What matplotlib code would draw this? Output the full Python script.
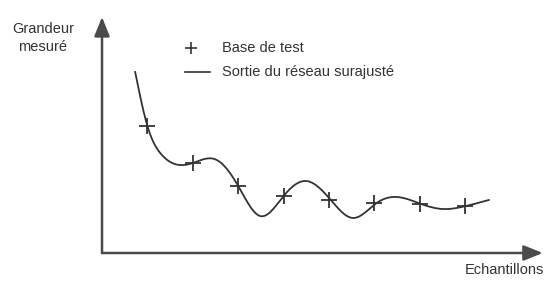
import numpy as np
import matplotlib
matplotlib.use('Agg')
import matplotlib.pyplot as plt

plt.rcParams['font.family'] = ['Liberation Sans', 'DejaVu Sans']

# test samples (sample index, measured value)
test_x = [1, 2, 3, 4, 5, 6, 7, 8]
test_y = [6.35, 4.5, 3.35, 2.85, 2.65, 2.5, 2.45, 2.35]

# points
curve_x = [0.73, 1.0, 1.3, 1.65, 2.0, 2.5, 3.0, 3.48, 4.0, 4.5, 5.04, 5.53, 6.05, 6.5, 7.03, 7.5, 8.02, 8.52]
curve_y = [9.05, 6.35, 4.95, 4.42, 4.5, 4.68, 3.35, 1.85, 2.85, 3.6, 2.65, 1.75, 2.5, 2.8, 2.45, 2.2, 2.35, 2.65]

labels = ['Base de test', 'Sortie du réseau surajusté']


def natural_spline(x, y, xs):
    x = np.asarray(x, float)
    y = np.asarray(y, float)
    n = len(x)
    h = np.diff(x)
    A = np.zeros((n, n))
    b = np.zeros(n)
    A[0, 0] = 1
    A[-1, -1] = 1
    for i in range(1, n - 1):
        A[i, i - 1] = h[i - 1]
        A[i, i] = 2 * (h[i - 1] + h[i])
        A[i, i + 1] = h[i]
        b[i] = 3 * ((y[i + 1] - y[i]) / h[i] - (y[i] - y[i - 1]) / h[i - 1])
    c = np.linalg.solve(A, b)
    out = np.empty_like(xs)
    for k, xv in enumerate(xs):
        i = min(max(np.searchsorted(x, xv) - 1, 0), n - 2)
        dx = xv - x[i]
        bi = (y[i + 1] - y[i]) / h[i] - h[i] * (2 * c[i] + c[i + 1]) / 3
        di = (c[i + 1] - c[i]) / (3 * h[i])
        out[k] = y[i] + bi * dx + c[i] * dx ** 2 + di * dx ** 3
    return out


fig = plt.figure(figsize=(5.44, 2.82), dpi=100)
ax = fig.add_axes([0, 0, 1, 1])
ax.set_xlim(-2.247, 9.736)
ax.set_ylim(-1.45, 12.65)
ax.axis('off')

# axes with arrows
arr = dict(arrowstyle='-|>,head_length=0.77,head_width=0.31', mutation_scale=15,
           color='#4a4a4a', lw=1.8, shrinkA=0, shrinkB=0)
ax.annotate('', xy=(0, 11.8), xytext=(0, 0), arrowprops=arr)
ax.annotate('', xy=(9.71, 0), xytext=(0, 0), arrowprops=arr)

xs = np.linspace(curve_x[0], curve_x[-1], 400)
ax.plot(xs, natural_spline(curve_x, curve_y, xs), color='#333333', lw=1.3)
ax.plot(test_x, test_y, '+', color='#333333', ms=11, mew=1.3)

# legend
ax.plot([1.95], [10.25], '+', color='#333333', ms=9, mew=1.2)
ax.plot([1.82, 2.38], [9.05, 9.05], color='#333333', lw=1.2)
ax.text(2.64, 10.25, labels[0], fontsize=10.5, color='#333333', va='center')
ax.text(2.64, 9.05, labels[1], fontsize=10.5, color='#333333', va='center')

ax.text(-1.3, 10.75, 'Grandeur\nmesuré', fontsize=10.5, color='#333333',
        ha='center', va='center', linespacing=1.3)
ax.text(9.73, -0.85, 'Echantillons', fontsize=10.5, color='#333333',
        ha='right', va='center')

fig.savefig('out.png', dpi=100)
